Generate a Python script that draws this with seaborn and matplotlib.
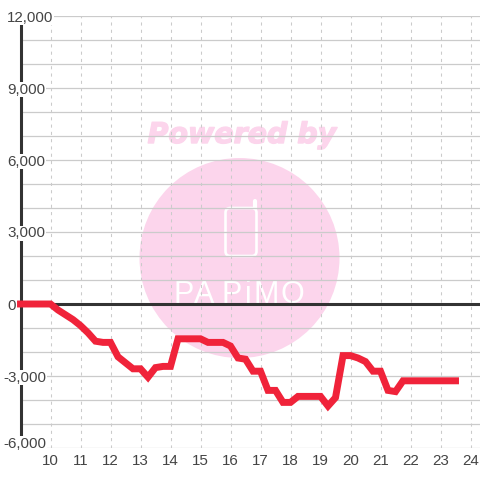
import matplotlib
matplotlib.use('Agg')
import matplotlib.pyplot as plt
from matplotlib.patches import Circle, FancyBboxPatch
from matplotlib.lines import Line2D
from matplotlib.transforms import ScaledTranslation
import matplotlib.patheffects as pe
import seaborn as sns

# Values
hours = [9, 10, 10.25, 10.5, 10.75, 11, 11.25, 11.5, 11.75, 12, 12.25, 12.5, 12.75, 13,
         13.25, 13.5, 13.75, 14, 14.25, 14.5, 14.75, 15, 15.25, 15.5, 15.75, 16, 16.25,
         16.5, 16.75, 17, 17.25, 17.5, 17.75, 18, 18.25, 18.5, 18.75, 19, 19.25, 19.5,
         19.75, 20, 20.25, 20.5, 20.75, 21, 21.25, 21.5, 21.75, 22, 23.5]
values = [0, 0, -250, -450, -650, -900, -1200, -1550, -1600, -1600, -2200, -2450, -2700, -2700,
          -3050, -2650, -2600, -2600, -1450, -1450, -1450, -1450, -1600, -1600, -1600, -1750, -2250,
          -2300, -2800, -2800, -3600, -3600, -4100, -4100, -3850, -3850, -3850, -3850, -4250, -3900,
          -2150, -2150, -2250, -2400, -2800, -2800, -3600, -3650, -3200, -3200, -3200]
x_ticks = list(range(10, 25))
y_ticks = [12000, 9000, 6000, 3000, 0, -3000, -6000]
y_labels = ['12,000', '9,000', '6,000', '3,000', '0', '-3,000', '-6,000']
y_grid = list(range(-6000, 13000, 1000))
logo_letters = ['P', 'A', 'P', 'i', 'M', 'O']
logo_left = [173, 194, 222, 245, 254, 281]

PINK = '#fcd5ec'
GRID = '#cbcbcb'
DARK = '#333333'
RED = '#f0233a'

sns.set_style('white')
plt.rcParams['font.family'] = ['Liberation Sans', 'DejaVu Sans']

fig = plt.figure(figsize=(4.8, 4.8), dpi=100)
ax = fig.add_axes([20.5 / 480, 32 / 480, 459.5 / 480, 432 / 480])


def px(x, y):
    # pixel position in the 480x480 picture to figure fraction
    return x / 480, 1 - y / 480


# Watermark behind the chart
ax.add_patch(Circle(px(239.5, 258), 100 / 480, transform=fig.transFigure,
                    color=PINK, lw=0, zorder=0.5, clip_on=False))
ax.text(*px(242, 135), 'Powered by', transform=fig.transFigure, family='DejaVu Sans',
        fontsize=20.5, fontweight='bold', fontstyle='oblique', color=PINK,
        ha='center', va='center', zorder=0.5,
        path_effects=[pe.withStroke(linewidth=1, foreground=PINK)])
ax.add_patch(FancyBboxPatch(px(225.5, 256), 31 / 480, 48 / 480, transform=fig.transFigure,
                            boxstyle='round,pad=0,rounding_size=0.01', fc='none', ec='white',
                            lw=1.9, zorder=0.8, clip_on=False))
ax.add_line(Line2D(*zip(px(255, 208), px(255, 201)), transform=fig.transFigure, color='white',
                   lw=3, solid_capstyle='round', zorder=0.8, clip_on=False))
for letter, left in zip(logo_letters, logo_left):
    ax.text(*px(left, 303), letter, transform=fig.transFigure, family='Liberation Sans',
            fontsize=22, color='white', ha='left', va='baseline', zorder=0.8)

# Grid
ax.hlines(y_grid, 9, 24.4, color=GRID, lw=0.9, zorder=1.2)
ax.vlines(x_ticks, -6000, 12000, color=GRID, lw=0.75, linestyles=(0, (3, 4)), zorder=1.2)
ax.axhline(0, color=DARK, lw=2.2, zorder=2.2)

sns.lineplot(x=hours, y=values, ax=ax, color=RED, lw=5, zorder=3, clip_on=False,
             errorbar=None, sort=False, solid_capstyle='projecting', solid_joinstyle='miter')

ax.set_xlim(9, 9 + 459.5 / 30)
ax.set_ylim(-6000, 12000)
ax.set_xticks(x_ticks)
ax.set_yticks(y_ticks, y_labels)
ax.set_axisbelow(False)
ax.tick_params(length=0, labelsize=10.9, labelcolor='#444444')
ax.tick_params(axis='x', pad=4.5)

for spine in ['top', 'right', 'bottom']:
    ax.spines[spine].set_visible(False)
ax.spines['left'].set_color(DARK)
ax.spines['left'].set_linewidth(2.2)

for tick, value in zip(ax.yaxis.get_major_ticks(), y_ticks):
    tick.set_pad(12.6 if value < 0 else 9.7)
    tick.label1.set_ha('left')
    tick.label1.set_bbox(dict(fc='white', ec='none', pad=0.5))
    if value == -6000:
        tick.label1.set_va('bottom')
        tick.label1.set_transform(tick.label1.get_transform()
                                  + ScaledTranslation(0, -2.5 / 100, fig.dpi_scale_trans))

fig.savefig('out.png', dpi=100)
